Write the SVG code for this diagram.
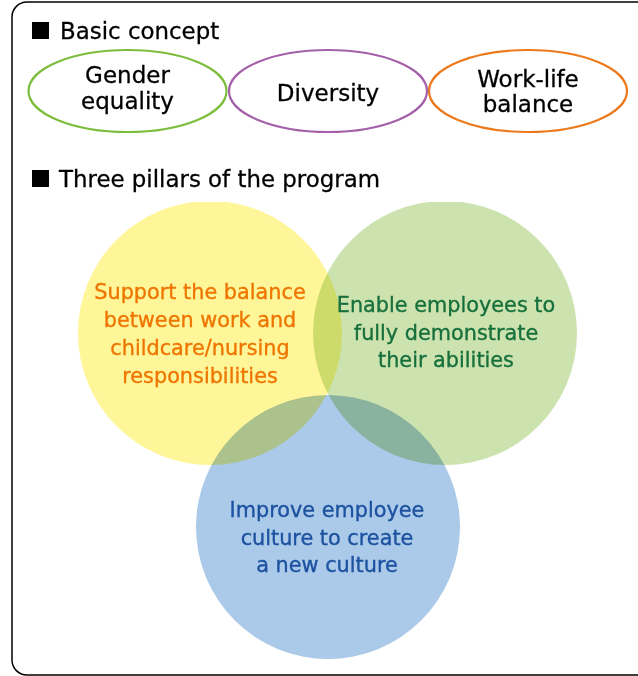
<svg xmlns="http://www.w3.org/2000/svg" width="638" height="676" viewBox="0 0 638 676">
<style>
text{font-family:"DejaVu Sans","Noto Sans",sans-serif;text-anchor:middle}
.hd{font-size:22.9px;fill:#000;text-anchor:start;stroke:#000;stroke-width:0.3}
.el{font-size:23px;fill:#000;stroke:#000;stroke-width:0.3}
.ct{font-size:20.8px;stroke-width:0.35}
.c{mix-blend-mode:multiply}
</style>
<defs>
<clipPath id="clip"><rect x="0" y="202" width="638" height="474"/></clipPath>
</defs>
<rect x="12" y="2" width="640" height="673" rx="15" fill="#fff" stroke="#000" stroke-width="1.5"/>
<g id="header1"><rect x="32" y="22" width="17" height="17" fill="#000"/><text class="hd" x="60" y="39">Basic concept</text></g>
<g id="gender"><ellipse cx="127.5" cy="91" rx="99" ry="41" fill="none" stroke="#7DBD3C" stroke-width="2.2"/><text class="el" x="127.5" y="83">Gender</text><text class="el" x="127.5" y="109">equality</text></g>
<g id="diversity"><ellipse cx="328" cy="91" rx="99" ry="41" fill="none" stroke="#A461AA" stroke-width="2.2"/><text class="el" x="328" y="101">Diversity</text></g>
<g id="worklife"><ellipse cx="528" cy="91" rx="99" ry="41" fill="none" stroke="#EC7A1C" stroke-width="2.2"/><text class="el" x="528" y="87">Work-life</text><text class="el" x="528" y="112">balance</text></g>
<g id="header2"><rect x="32" y="170" width="17" height="17" fill="#000"/><text class="hd" x="59" y="187">Three pillars of the program</text></g>
<g clip-path="url(#clip)" style="isolation:isolate">
<g id="support"><circle class="c" cx="210" cy="333" r="132" fill="#FFF69A"/></g>
<g id="enable"><circle class="c" cx="445" cy="333" r="132" fill="#CDE3AF"/></g>
<g id="improve"><circle class="c" cx="328" cy="527" r="132" fill="#ABC9E8"/></g>
</g>
<g id="labels">
<g fill="#EE7600" stroke="#EE7600" class="ct"><text x="200" y="299">Support the balance</text><text x="200" y="327">between work and</text><text x="200" y="355">childcare/nursing</text><text x="200" y="383">responsibilities</text></g>
<g fill="#17703C" stroke="#17703C" class="ct"><text x="446" y="312">Enable employees to</text><text x="446" y="340">fully demonstrate</text><text x="446" y="367">their abilities</text></g>
<g fill="#1C52A0" stroke="#1C52A0" class="ct"><text x="327" y="517">Improve employee</text><text x="327" y="545">culture to create</text><text x="327" y="572">a new culture</text></g>
</g>
</svg>
